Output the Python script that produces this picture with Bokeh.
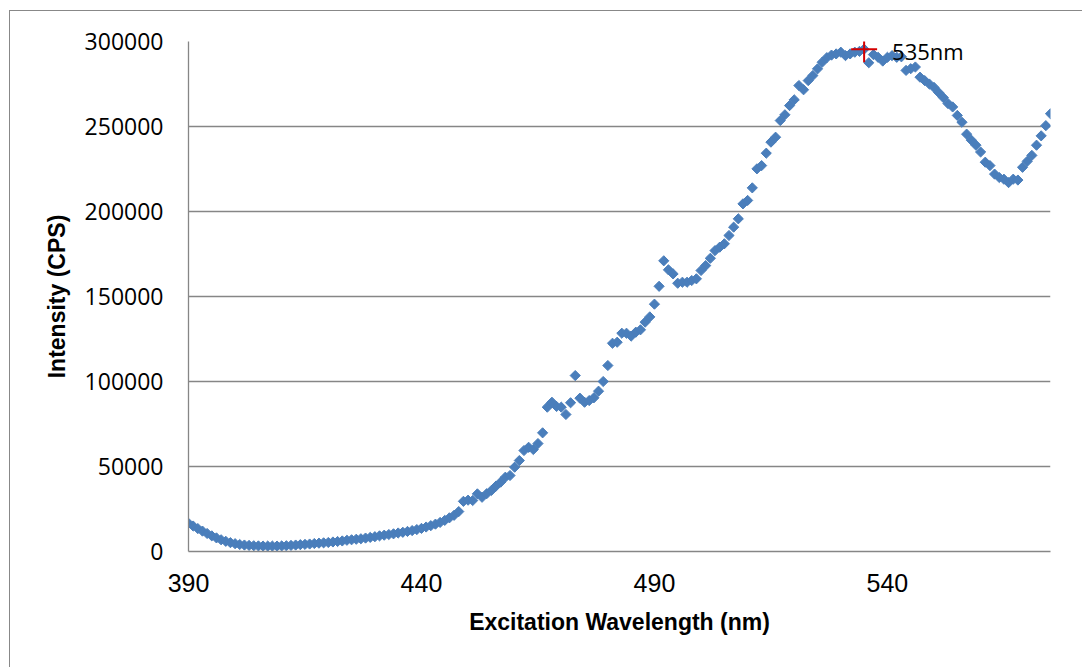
import math
from bokeh.plotting import figure
from bokeh.models import Range1d, FixedTicker, NumeralTickFormatter, Label
from bokeh.embed import file_html
from bokeh.resources import INLINE

# ---- data ----
wavelength_start = 390
wavelength_end = 575
wavelengths = list(range(wavelength_start, wavelength_end + 1))

intensity = [
    16600, 15000, 13500, 12000, 10600, 9200, 8000, 6900, 6000, 5200,      # 390-399
    4600, 4100, 3800, 3600, 3400, 3300, 3200, 3200, 3200, 3200,           # 400-409
    3300, 3400, 3600, 3800, 4000, 4200, 4400, 4700, 4900, 5100,           # 410-419
    5300, 5600, 5900, 6200, 6600, 6900, 7200, 7500, 7900, 8300,           # 420-429
    8700, 9200, 9600, 10000, 10400, 10900, 11300, 11800, 12300, 12900,    # 430-439
    13600, 14400, 15200, 16100, 17100, 18300, 19800, 21300, 23500, 29500, # 440-449
    30200, 30000, 33900, 31900, 34000, 35900, 38500, 40800, 43700, 44700, # 450-459
    49600, 53500, 59400, 61300, 60000, 63500, 69800, 84900, 87800, 85300, # 460-469
    84900, 80600, 87500, 103500, 90200, 87800, 88800, 90400, 94300, 100000,  # 470-479
    109400, 122500, 123100, 128400, 128400, 126700, 129000, 130400, 134900, 138000,  # 480-489
    145500, 156000, 171000, 165700, 163300, 157800, 158400, 158400, 159400, 160400,  # 490-499
    165300, 168200, 172500, 177000, 179000, 181000, 185900, 190800, 195700, 204500,  # 500-509
    206500, 213900, 225100, 227000, 234300, 240800, 243700, 253500, 256900, 262300,  # 510-519
    265700, 274100, 271600, 277000, 280000, 283900, 287800, 290500, 292000, 292700,  # 520-529
    293700, 291700, 292700, 293700, 294200, 295500, 287500, 292300, 290700, 288500,  # 530-539
    290700, 291700, 290700, 291000, 283000, 284000, 285000, 279000, 277000, 275000,  # 540-549
    273000, 270000, 267000, 263500, 261500, 256500, 252500, 245500, 242000, 239000,  # 550-559
    235000, 229000, 227000, 222000, 220000, 219000, 217000, 219000, 218500, 226000,  # 560-569
    229500, 233000, 239000, 244500, 250500, 257500,                                  # 570-575
]

x_ticks = [390, 440, 490, 540]
y_ticks = [0, 50000, 100000, 150000, 200000, 250000, 300000]

peak_wavelength = 535
peak_label = "535nm"
peak_intensity = intensity[peak_wavelength - wavelength_start]

x_title = "Excitation Wavelength (nm)"
y_title = "Intensity (CPS)"

# ---- figure ----
p = figure(width=1073, height=657,
           x_range=Range1d(wavelength_start, wavelength_end),
           y_range=Range1d(0, 300000),
           output_backend="svg", toolbar_location=None,
           min_border_left=178, min_border_right=33,
           min_border_top=30, min_border_bottom=117,
           margin=(10, 0, 0, 9),
           styles={"border-left": "1px solid #888888",
                   "border-top": "1px solid #888888"})
p.background_fill_color = "white"
p.border_fill_color = "white"
p.outline_line_color = None

grid_col = "#868686"
p.xgrid.visible = False
p.ygrid.ticker = FixedTicker(ticks=y_ticks)
p.ygrid.grid_line_color = grid_col
p.ygrid.grid_line_width = 1.3

# y axis
p.yaxis.ticker = FixedTicker(ticks=y_ticks)
p.yaxis.formatter = NumeralTickFormatter(format="0")
p.yaxis.major_label_text_font = "Open Sans"
p.yaxis.major_label_text_font_size = "23px"
p.yaxis.major_label_text_color = "black"
p.yaxis.major_label_standoff = 25
p.yaxis.axis_label = y_title
p.yaxis.axis_label_text_font = "Liberation Sans"
p.yaxis.axis_label_text_font_style = "bold"
p.yaxis.axis_label_text_font_size = "23px"
p.yaxis.axis_label_text_color = "black"
p.yaxis.axis_label_standoff = 12

# x axis
p.xaxis.ticker = FixedTicker(ticks=x_ticks)
p.xaxis.major_label_text_font = "Liberation Sans"
p.xaxis.major_label_text_font_size = "25px"
p.xaxis.major_label_text_color = "black"
p.xaxis.major_label_standoff = 22
p.xaxis.axis_label = x_title
p.xaxis.axis_label_text_font = "Liberation Sans"
p.xaxis.axis_label_text_font_style = "bold"
p.xaxis.axis_label_text_font_size = "23px"
p.xaxis.axis_label_text_color = "black"
p.xaxis.axis_label_standoff = 14

for ax in (p.xaxis, p.yaxis):
    ax.axis_line_color = grid_col
    ax.axis_line_width = 1.3
    ax.major_tick_out = 0
    ax.major_tick_in = 0
    ax.minor_tick_out = 0
    ax.minor_tick_in = 0

# data points
p.scatter(wavelengths, intensity, marker="square", size=7.2, angle=math.pi / 4,
          fill_color="#4a7ebb", line_color="#4a7ebb", line_width=1)

# peak marker and label
p.scatter([peak_wavelength], [peak_intensity], marker="cross", size=26,
          line_color="#d40000", line_width=2)
p.add_layout(Label(x=peak_wavelength, y=peak_intensity, x_offset=28, y_offset=-2,
                   text=peak_label, text_font="Open Sans", text_font_size="22px",
                   text_color="black", text_baseline="alphabetic"))

open("out.html", "w").write(file_html(p, INLINE))
